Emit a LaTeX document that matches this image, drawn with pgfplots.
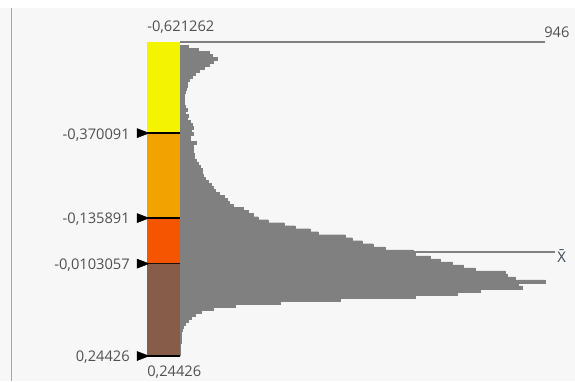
\documentclass[border=0pt]{standalone}
\usepackage{fontspec}
\setmainfont{Open Sans}
\newfontfamily\notosans{Noto Sans}
\usepackage{pgfplots}
\usepackage{pgfplotstable}
\pgfplotsset{compat=1.18}
\definecolor{bgc}{RGB}{247,247,247}
\definecolor{histc}{RGB}{128,128,128}
\definecolor{labc}{RGB}{80,80,80}
\definecolor{cA}{RGB}{244,244,0}
\definecolor{cB}{RGB}{243,163,0}
\definecolor{cC}{RGB}{245,85,0}
\definecolor{cD}{RGB}{135,92,72}
\pgfplotstableread{
cnt edge
21 -0.6130
47 -0.6047
75 -0.5964
83 -0.5881
96 -0.5798
86 -0.5715
75 -0.5632
62 -0.5549
49 -0.5466
39 -0.5383
31 -0.5300
23 -0.5217
18 -0.5134
18 -0.5051
16 -0.4968
13 -0.4885
10 -0.4802
10 -0.4719
10 -0.4636
11 -0.4553
13 -0.4470
18 -0.4387
13 -0.4304
21 -0.4221
18 -0.4138
26 -0.4055
31 -0.3972
34 -0.3889
28 -0.3806
34 -0.3723
26 -0.3640
26 -0.3557
41 -0.3474
34 -0.3391
34 -0.3308
34 -0.3225
36 -0.3142
36 -0.3059
41 -0.2976
47 -0.2893
52 -0.2810
57 -0.2727
57 -0.2644
60 -0.2561
65 -0.2478
73 -0.2395
80 -0.2312
86 -0.2229
91 -0.2146
101 -0.2063
114 -0.1980
122 -0.1897
127 -0.1814
137 -0.1731
163 -0.1648
176 -0.1565
189 -0.1482
202 -0.1399
228 -0.1316
270 -0.1233
298 -0.1150
337 -0.1067
358 -0.0984
428 -0.0901
446 -0.0818
472 -0.0735
500 -0.0652
531 -0.0569
604 -0.0486
609 -0.0403
648 -0.0320
674 -0.0237
705 -0.0154
734 -0.0071
765 0.0012
842 0.0095
848 0.0178
868 0.0261
946 0.0344
876 0.0427
886 0.0510
778 0.0593
718 0.0676
609 0.0759
415 0.0842
259 0.0925
143 0.1008
86 0.1091
54 0.1174
39 0.1257
28 0.1340
21 0.1423
13 0.1506
8 0.1589
5 0.1672
3 0.1755
2 0.1838
2 0.1921
2 0.2004
1 0.2087
1 0.2170
1 0.2253
1 0.2336
0 0.2419
}\histtable
\begin{document}
\begin{tikzpicture}
\begin{axis}[
  scale only axis, width=431.25pt, height=285.75pt,
  xmin=-466.56, xmax=1023.84,
  ymin=-0.73703, ymax=0.31314, y dir=reverse,
  axis lines=none, clip=false,
]
% background
\fill[white] (axis cs:-466.56,-0.73703) rectangle (axis cs:1023.84,0.31314);
\fill[bgc] (axis cs:-466.56,-0.71498) rectangle (axis cs:1023.84,0.31314);
\draw[color={rgb,255:red,165;green,165;blue,165}, line width=1pt] (axis cs:-436.8,-0.71498) -- (axis cs:-436.8,0.31314);
% mean line (under histogram)
\addplot[histc, line width=1pt] coordinates {(0,-0.04243) (972,-0.04243)};
% max line
\addplot[histc, line width=1.1pt] coordinates {(0,-0.621262) (946,-0.621262)};
% histogram
\addplot[xbar interval, fill=histc, draw=histc, line width=0.2pt] table[x=cnt, y=edge] {\histtable};
% class bar
\addplot[fill=cA, draw=none] coordinates {(-85.5,-0.621262) (0,-0.621262) (0,-0.370091) (-85.5,-0.370091)} -- cycle;
\addplot[fill=cB, draw=none] coordinates {(-85.5,-0.370091) (0,-0.370091) (0,-0.135891) (-85.5,-0.135891)} -- cycle;
\addplot[fill=cC, draw=none] coordinates {(-85.5,-0.135891) (0,-0.135891) (0,-0.0103057) (-85.5,-0.0103057)} -- cycle;
\addplot[fill=cD, draw=none] coordinates {(-85.5,-0.0103057) (0,-0.0103057) (0,0.24426) (-85.5,0.24426)} -- cycle;
% class breaks
\addplot[black, line width=1pt] coordinates {(-85.5,-0.370091) (0,-0.370091)};
\addplot[black, line width=1pt] coordinates {(-85.5,-0.135891) (0,-0.135891)};
\addplot[black!80!cD, line width=1pt] coordinates {(-85.5,-0.0103057) (0,-0.0103057)};
\addplot[black, line width=1pt] coordinates {(-85.5,0.24426) (0,0.24426)};
% markers
\addplot[only marks, mark=triangle*, mark size=3.9pt, mark options={rotate=-90, yscale=1.5, fill=black, draw=none}]
  coordinates {(-101,-0.370091) (-101,-0.135891) (-101,-0.0103057) (-101,0.24426)};
% labels
\begin{scope}[every node/.style={font=\fontsize{11}{13}\selectfont, text=labc, inner sep=0pt}]
\node[anchor=base east] at (axis cs:-129.6,-0.35355) {-0,370091};
\node[anchor=base east] at (axis cs:-129.6,-0.12073) {-0,135891};
\node[anchor=base east] at (axis cs:-129.6,0.00623) {-0,0103057};
\node[anchor=base east] at (axis cs:-129.6,0.25942) {0,24426};
\node[anchor=base west] at (axis cs:-85.5,-0.65020) {-0,621262};
\node[anchor=base west] at (axis cs:-85.5,0.30077) {0,24426};
\node[anchor=base west] at (axis cs:943.5,-0.63504) {946};
\node[anchor=base west, text={rgb,255:red,70;green,80;blue,95}] at (axis cs:977.2,-0.01487) {\notosans X^^^^0304};
\end{scope}
\end{axis}
\end{tikzpicture}
\end{document}
